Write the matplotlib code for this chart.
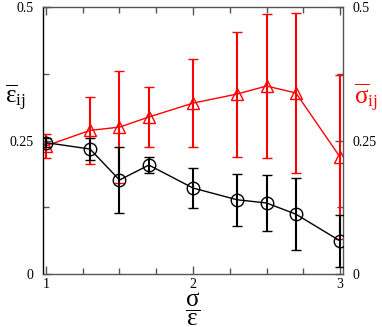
import numpy as np
import matplotlib.pyplot as plt
from matplotlib.ticker import MultipleLocator

plt.rcParams['font.family'] = 'Liberation Serif'
plt.rcParams['mathtext.fontset'] = 'custom'
plt.rcParams['mathtext.rm'] = 'Liberation Serif'
plt.rcParams['mathtext.it'] = 'Liberation Serif'
plt.rcParams['mathtext.bf'] = 'Liberation Serif:bold'

# sigma / epsilon ratio
ratio = [1.0, 1.3, 1.5, 1.7, 2.0, 2.3, 2.5, 2.7, 3.0]

# mean epsilon_ij (black circles) and its error
eps_mean = [0.246, 0.234, 0.176, 0.204, 0.161, 0.139, 0.133, 0.112, 0.062]
eps_err = [0.009, 0.021, 0.062, 0.015, 0.038, 0.049, 0.052, 0.067, 0.049]

# mean sigma_ij (red triangles) and its error
sig_mean = [0.240, 0.269, 0.275, 0.294, 0.320, 0.337, 0.352, 0.339, 0.219]
sig_err = [0.022, 0.063, 0.105, 0.057, 0.083, 0.117, 0.134, 0.150, 0.153]

yticks = [0, 0.25, 0.5]
ytick_labels = ['0', '0.25', '0.5']
xticks = [1, 2, 3]

fig = plt.figure(figsize=(3.82, 3.27), dpi=100)
ax = fig.add_axes([43 / 382, 1 - 274 / 327, 300 / 382, 267 / 327])

ax.errorbar(ratio, sig_mean, yerr=sig_err, color='red', lw=1.0,
            marker='^', ms=9, mfc='none', mec='red', mew=1.0,
            capsize=3.5, capthick=1.5, elinewidth=1.5, zorder=2)
ax.errorbar(ratio, eps_mean, yerr=eps_err, color='black', lw=1.0,
            marker='o', ms=9, mfc='none', mec='black', mew=1.0,
            capsize=3.5, capthick=1.5, elinewidth=1.5, zorder=3)

ax.set_xlim(0.98, 3.02)
ax.set_ylim(0, 0.5)
ax.set_xticks(xticks)
ax.set_yticks(yticks)
ax.set_yticklabels(ytick_labels)
ax.xaxis.set_minor_locator(MultipleLocator(0.25))
ax.yaxis.set_minor_locator(MultipleLocator(0.125))
ax.tick_params(which='both', direction='in', top=True, right=True,
               labelright=True, labelsize=10, color='#555555')
ax.tick_params(which='major', length=6, width=1)
ax.tick_params(which='minor', length=4, width=1)
ax.tick_params(axis='y', pad=7)
ax.tick_params(axis='x', pad=3)
for s in ax.spines.values():
    s.set_color('#555555')
    s.set_linewidth(1.0)
ax.spines['left'].set_color('black')

fig.text(15 / 382, 1 - 98 / 327, r'$\overline{ε}_{ij}$',
         fontsize=18, ha='center', va='center')
fig.text(366 / 382, 1 - 98 / 327, r'$\overline{σ}_{ij}$',
         fontsize=18, ha='center', va='center', color='red')
fig.text(193 / 382, 1 - 309 / 327, r'$\dfrac{σ}{ε}$',
         fontsize=18, ha='center', va='center')

fig.savefig('out.png', dpi=100)
